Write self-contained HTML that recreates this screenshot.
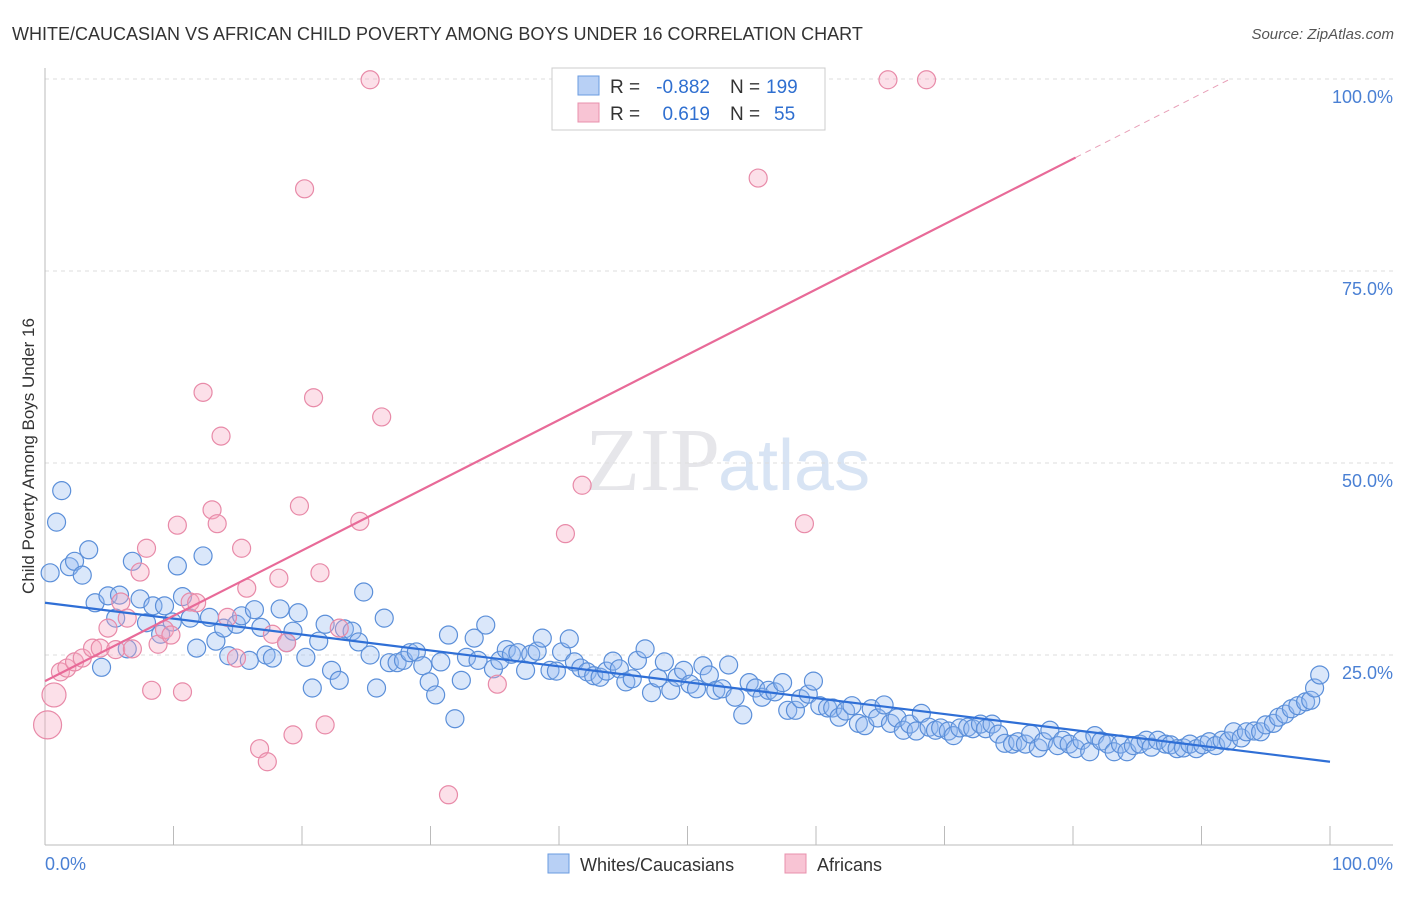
<!DOCTYPE html>
<html><head><meta charset="utf-8"><style>
body{margin:0;background:#fff;font-family:"Liberation Sans",sans-serif}
</style></head><body>
<svg id="c" width="1406" height="892" xmlns="http://www.w3.org/2000/svg" style="font-family:'Liberation Sans',sans-serif">
<text x="12" y="40" font-size="18" fill="#333">WHITE/CAUCASIAN VS AFRICAN CHILD POVERTY AMONG BOYS UNDER 16 CORRELATION CHART</text>
<text x="1394" y="39" font-size="15" fill="#555" font-style="italic" text-anchor="end">Source: ZipAtlas.com</text>
<text x="720" y="490" font-size="90" fill="#e6e6ea" text-anchor="end" font-family="Liberation Serif">ZIP</text>
<text x="718" y="490" font-size="72" fill="#d8e4f4">atlas</text>
<g id="grid"></g>
<g id="marks"></g>
<text transform="translate(34,456) rotate(-90)" font-size="17" fill="#333" text-anchor="middle">Child Poverty Among Boys Under 16</text>
<text x="45" y="870" font-size="18" fill="#4a80d4">0.0%</text>
<text x="1393" y="870" font-size="18" fill="#4a80d4" text-anchor="end">100.0%</text>
<g>
<rect x="552" y="68" width="273" height="62" fill="#fff" stroke="#ccc"/>
<rect x="578" y="76" width="21" height="19" fill="#b8d0f5" stroke="#6a9be0"/>
<rect x="578" y="103" width="21" height="19" fill="#f8c4d4" stroke="#e890ad"/>
<text x="610" y="93" font-size="19" fill="#333">R =</text>
<text x="710" y="93" font-size="19" fill="#2f6fd0" text-anchor="end">-0.882</text>
<text x="730" y="93" font-size="19" fill="#333">N =</text>
<text x="766" y="93" font-size="19" fill="#2f6fd0">199</text>
<text x="610" y="120" font-size="19" fill="#333">R =</text>
<text x="710" y="120" font-size="19" fill="#2f6fd0" text-anchor="end">0.619</text>
<text x="730" y="120" font-size="19" fill="#333">N =</text>
<text x="774" y="120" font-size="19" fill="#2f6fd0">55</text>
</g>
<g>
<rect x="548" y="854" width="21" height="19" fill="#b8d0f5" stroke="#6a9be0"/>
<text x="580" y="871" font-size="18" fill="#333">Whites/Caucasians</text>
<rect x="785" y="854" width="21" height="19" fill="#f8c4d4" stroke="#e890ad"/>
<text x="817" y="871" font-size="18" fill="#333">Africans</text>
</g>
</svg>
<script>
const yTicks=[25,50,75,100];
const yTickLabels=["25.0%","50.0%","75.0%","100.0%"];
const xTicks=[0,10,20,30,40,50,60,70,80,90,100];
const whiteX=[0.4,0.9,1.3,1.9,2.3,2.9,3.4,3.9,4.4,4.9,5.5,5.8,6.4,6.8,7.4,7.9,8.4,9.0,9.3,9.9,10.3,10.7,11.3,11.8,12.3,12.8,13.3,13.9,14.3,14.9,15.3,15.9,16.3,16.8,17.2,17.7,18.3,18.8,19.3,19.7,20.3,20.8,21.3,21.8,22.3,22.9,23.3,23.9,24.4,24.8,25.3,25.8,26.4,26.8,27.4,27.9,28.4,28.9,29.4,29.9,30.4,30.8,31.4,31.9,32.4,32.8,33.4,33.7,34.3,34.9,35.4,35.9,36.3,36.8,37.4,37.8,38.3,38.7,39.3,39.8,40.2,40.8,41.2,41.7,42.2,42.7,43.2,43.7,44.2,44.7,45.2,45.7,46.1,46.7,47.2,47.7,48.2,48.7,49.2,49.7,50.2,50.7,51.2,51.7,52.2,52.7,53.2,53.7,54.3,54.8,55.3,55.8,56.3,56.8,57.4,57.8,58.4,58.8,59.4,59.8,60.3,60.9,61.3,61.8,62.3,62.8,63.3,63.8,64.3,64.8,65.3,65.8,66.3,66.8,67.3,67.8,68.2,68.8,69.3,69.7,70.3,70.7,71.2,71.8,72.2,72.8,73.2,73.7,74.2,74.7,75.3,75.7,76.3,76.7,77.3,77.7,78.2,78.8,79.2,79.7,80.2,80.7,81.3,81.7,82.2,82.7,83.2,83.7,84.2,84.7,85.2,85.7,86.1,86.6,87.2,87.6,88.1,88.6,89.1,89.6,90.1,90.6,91.1,91.6,92.1,92.5,93.1,93.5,94.1,94.6,95.0,95.6,96.0,96.5,97.0,97.5,98.1,98.5,98.8,99.2];
const whiteY=[35.7,42.3,46.4,36.5,37.2,35.4,38.7,31.8,23.4,32.7,29.8,32.8,25.8,37.2,32.3,29.2,31.4,27.7,31.4,29.3,36.6,32.6,29.8,25.9,37.9,29.9,26.8,28.5,24.9,29.0,30.1,24.3,30.9,28.6,25.0,24.6,31.0,26.6,28.1,30.5,24.7,20.7,26.8,29.0,23.0,21.7,28.4,28.1,26.7,33.2,25.0,20.7,29.8,24.0,24.0,24.3,25.3,25.4,23.6,21.5,19.8,24.1,27.6,16.7,21.7,24.7,27.2,24.3,28.9,23.2,24.3,25.7,25.1,25.3,23.0,25.1,25.5,27.2,23.0,22.9,25.4,27.1,24.1,23.3,22.8,22.3,22.1,22.9,24.2,23.2,21.5,21.9,24.3,25.8,20.1,22.0,24.1,20.4,22.1,23.0,21.2,20.6,23.6,22.4,20.4,20.6,23.7,19.5,17.2,21.4,20.7,19.5,20.4,20.2,21.4,17.8,17.8,19.3,19.9,21.6,18.4,18.1,18.1,16.9,17.7,18.4,16.1,15.8,18.0,16.8,18.5,16.1,16.8,15.2,16.0,15.1,17.4,15.6,15.2,15.5,15.1,14.5,15.5,15.6,15.4,16.0,15.4,16.0,14.7,13.5,13.4,13.7,13.4,14.7,12.9,13.7,15.2,13.2,13.9,13.4,12.8,13.9,12.4,14.5,13.8,13.4,12.4,13.4,12.4,13.2,13.4,13.9,13.0,13.9,13.4,13.3,12.8,12.9,13.4,12.8,13.3,13.7,13.2,13.9,13.8,15.0,14.2,15.0,15.1,15.0,15.9,16.1,16.9,17.3,18.0,18.4,18.9,19.1,20.7,22.4];
const africanX=[0.2,0.7,1.2,1.7,2.3,2.9,3.7,4.3,4.9,5.5,5.9,6.4,6.8,7.4,7.9,8.3,8.8,9.3,9.8,10.3,10.7,11.3,11.8,12.3,13.0,13.4,13.7,14.2,14.9,15.3,15.7,16.7,17.3,17.7,18.2,18.8,19.3,19.8,20.2,20.9,21.4,21.8,22.9,24.5,25.3,26.2,31.4,35.2,40.5,41.8,55.5,59.1,65.6,68.6];
const africanY=[15.9,19.8,22.8,23.3,24.1,24.6,25.9,25.9,28.5,25.7,31.9,29.8,25.8,35.8,38.9,20.4,26.4,28.3,27.6,41.9,20.2,31.9,31.8,59.2,43.9,42.1,53.5,29.9,24.6,38.9,33.7,12.8,11.1,27.7,35.0,26.6,14.6,44.4,85.7,58.5,35.7,15.9,28.5,42.4,99.9,56.0,6.8,21.2,40.8,47.1,87.1,42.1,99.9,99.9];
const africanR=[14,12,9,9,9,9,9,9,9,9,9,9,9,9,9,9,9,9,9,9,9,9,9,9,9,9,9,9,9,9,9,9,9,9,9,9,9,9,9,9,9,9,9,9,9,9,9,9,9,9,9,9,9,9];
const whiteTrend=[31.8,11.1];
const africanTrend=[21.6,0.85];
const NS='http://www.w3.org/2000/svg';
const X0=45,X1=1330,Y0=847,YS=7.68;
const sx=v=>X0+(X1-X0)*v/100, sy=v=>Y0-v*YS;
function mk(t,a,p){const e=document.createElementNS(NS,t);for(const k in a)e.setAttribute(k,a[k]);p.appendChild(e);return e;}
const grid=document.getElementById('grid'),marks=document.getElementById('marks');
yTicks.forEach((t,i)=>{
 const l=mk('line',{x1:X0,x2:1393,y1:sy(t),y2:sy(t),stroke:'#ddd','stroke-dasharray':'4,4'},grid);
 
 
 const tx=mk('text',{x:1393,y:sy(t)+24,'font-size':18,fill:'#4a80d4','text-anchor':'end'},grid);
 tx.textContent=yTickLabels[i];
 
 
});
const ax=mk('line',{x1:X0,x2:1393,y1:845,y2:845,stroke:'#bbb'},grid);


const ay=mk('line',{x1:X0,x2:X0,y1:68,y2:845,stroke:'#bbb'},grid);


xTicks.forEach(t=>{
 const l=mk('line',{x1:sx(t),x2:sx(t),y1:826,y2:845,stroke:'#bbb'},grid);
 
 
});
whiteX.forEach((x,i)=>{
 const c=mk('circle',{cx:sx(x),cy:sy(whiteY[i]),r:9,fill:'rgba(150,185,240,0.35)',stroke:'#5b8fd9','stroke-width':1.2},marks);
 
 
});
africanX.forEach((x,i)=>{
 const c=mk('circle',{cx:sx(x),cy:sy(africanY[i]),r:africanR[i],fill:'rgba(245,165,192,0.35)',stroke:'#e88aa8','stroke-width':1.2},marks);
 
 
});
const bl=mk('line',{x1:sx(0),y1:sy(whiteTrend[0]),x2:sx(100),y2:sy(whiteTrend[1]),stroke:'#2f6fd6','stroke-width':2.2},marks);


const pf=x=>africanTrend[0]+africanTrend[1]*x;
const xEnd=80.2, xTop=(100-africanTrend[0])/africanTrend[1];
const pl=mk('line',{x1:sx(0),y1:sy(pf(0)),x2:sx(xEnd),y2:sy(pf(xEnd)),stroke:'#e86a98','stroke-width':2.2},marks);


const pd=mk('line',{x1:sx(xEnd),y1:sy(pf(xEnd)),x2:sx(xTop),y2:sy(100),stroke:'#e8a0b8','stroke-width':1,'stroke-dasharray':'6,5'},marks);


</script>
</body></html>
